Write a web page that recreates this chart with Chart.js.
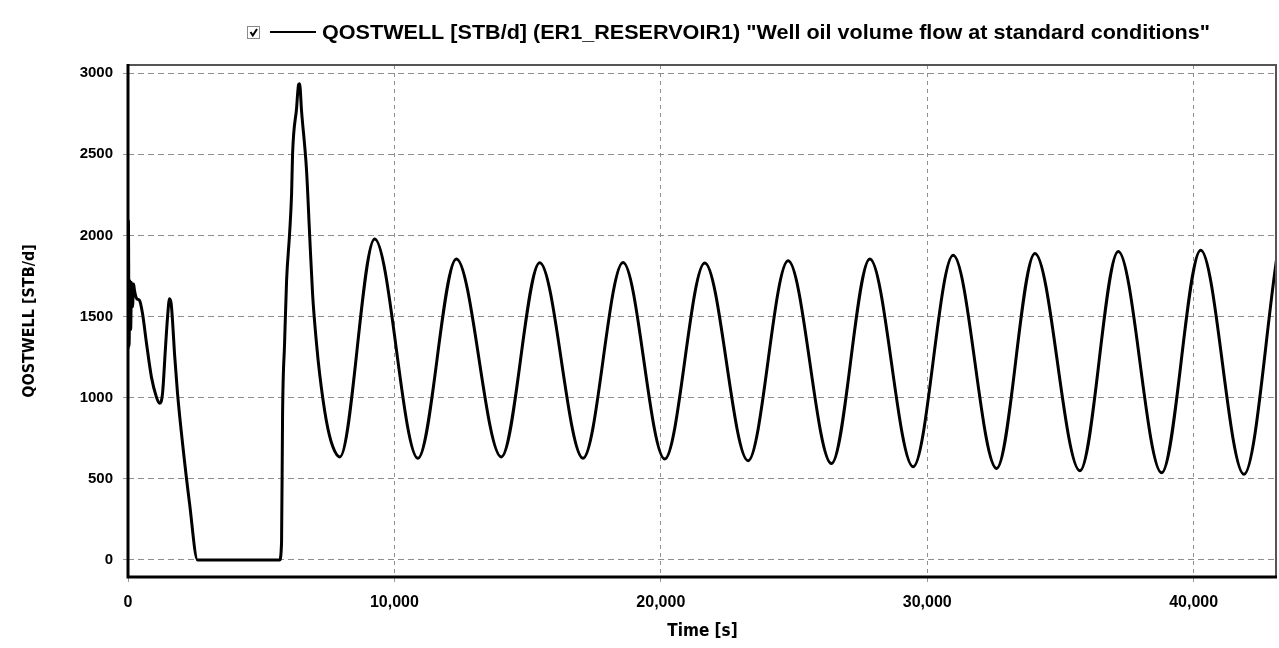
<!DOCTYPE html>
<html>
<head>
<meta charset="utf-8">
<title>QOSTWELL</title>
<script src="https://cdn.jsdelivr.net/npm/chart.js@4.4.1/dist/chart.umd.min.js"></script>
<style>
  html, body { margin: 0; padding: 0; background: #fff; }
  #wrap { position: relative; width: 1279px; height: 648px; }
</style>
</head>
<body>
<div id="wrap"><canvas id="flowChart"></canvas></div>
<script>
// well oil rate vs simulation time
const timeS = [
    0, 15, 40, 70, 100, 130, 170, 210, 244, 330, 432, 545, 695, 882, 1070, 1183, 1296, 1400, 1483, 1558,
    1620, 1671, 1746, 1859, 2047, 2309, 2610, 5689, 5764, 5802, 5877, 5952, 6065, 6140, 6177, 6328, 6403,
    6440, 6515, 6703, 6816, 6928, 7078, 7191, 7443, 7690, 7953,
    9257, 10883, 12324, 14014, 15453, 17079, 18581, 20146, 21648, 23274, 24777, 26406, 27844, 29471,
    30973, 32603, 34040, 35731, 37169, 38798, 40263, 41888, 43128
];
const qostwell = [
    1300, 2090, 1320, 1720, 1420, 1710, 1560, 1700, 1660, 1610, 1600, 1518, 1334, 1125, 1002, 965, 1026, 1290, 1494, 1610,
    1580, 1475, 1272, 1026, 719, 350, 0, 0, 110, 903, 1334, 1720, 2010, 2255, 2500, 2785, 2930,
    2935, 2765, 2397, 2010, 1640, 1330, 1150, 860, 697, 635,
    1978, 627, 1855, 635, 1832, 627, 1833, 622, 1830, 612, 1844, 594, 1855, 574,
    1877, 564, 1889, 550, 1901, 537, 1909, 528, 1870
];
const xTicks = [0, 10000, 20000, 30000, 40000];
const yTicks = [0, 500, 1000, 1500, 2000, 2500, 3000];

const seriesLabel = 'QOSTWELL [STB/d] (ER1_RESERVOIR1) "Well oil volume flow at standard conditions"';
const yTitle = 'QOSTWELL [STB/d]';
const xTitle = 'Time [s]';

const narrow = "'Liberation Sans Narrow', 'DejaVu Sans Condensed', 'Liberation Sans', sans-serif";
const plain = "'Liberation Sans', Arial, sans-serif";

// checkbox + line + caption above the plot
const legendBox = {
    id: 'legendBox',
    afterDraw(chart) {
        const ctx = chart.ctx;
        ctx.save();
        ctx.fillStyle = '#fff';
        ctx.strokeStyle = '#8a8a8a';
        ctx.lineWidth = 1;
        ctx.fillRect(247.5, 26.5, 12, 12);
        ctx.strokeRect(247.5, 26.5, 12, 12);
        ctx.strokeStyle = '#000';
        ctx.lineWidth = 2;
        ctx.beginPath();
        ctx.moveTo(250.5, 32);
        ctx.lineTo(252.8, 35.5);
        ctx.lineTo(257, 29);
        ctx.stroke();

        ctx.beginPath();
        ctx.moveTo(270, 32);
        ctx.lineTo(316, 32);
        ctx.stroke();

        // squeeze the caption into its slot (narrow face)
        ctx.fillStyle = '#000';
        ctx.font = 'bold 21px ' + plain;
        ctx.textBaseline = 'middle';
        ctx.textAlign = 'left';
        const w = ctx.measureText(seriesLabel).width;
        ctx.translate(322, 33);
        ctx.scale(888 / w, 1);
        ctx.fillText(seriesLabel, 0, 0);
        ctx.restore();
    }
};

// plot frame: dark left/bottom, grey top/right
const plotFrame = {
    id: 'plotFrame',
    afterDatasetsDraw(chart) {
        const { left, right, top, bottom } = chart.chartArea;
        const ctx = chart.ctx;
        ctx.save();
        ctx.strokeStyle = '#555';
        ctx.lineWidth = 2;
        ctx.beginPath();
        ctx.moveTo(left, top);
        ctx.lineTo(right - 1, top);
        ctx.lineTo(right - 1, bottom);
        ctx.stroke();
        ctx.strokeStyle = '#000';
        ctx.lineWidth = 3;
        ctx.beginPath();
        ctx.moveTo(left, top - 1);
        ctx.lineTo(left, bottom);
        ctx.lineTo(right, bottom);
        ctx.stroke();
        ctx.restore();
    }
};

new Chart(document.getElementById('flowChart').getContext('2d'), {
    type: 'line',
    data: {
        datasets: [{
            label: seriesLabel,
            data: timeS.map((t, i) => ({ x: t, y: qostwell[i] })),
            borderColor: '#000',
            borderWidth: 3,
            pointRadius: 0,
            fill: false,
            cubicInterpolationMode: 'monotone'
        }]
    },
    options: {
        responsive: true,
        maintainAspectRatio: false,
        animation: false,
        layout: { padding: { top: 65, right: 2, left: 0, bottom: 0 } },
        plugins: { legend: { display: false }, tooltip: { enabled: false } },
        scales: {
            x: {
                type: 'linear',
                min: 0,
                max: 43128,
                afterFit: s => { s.height = 71; },
                afterBuildTicks: s => { s.ticks = xTicks.map(v => ({ value: v })); },
                ticks: {
                    color: '#000',
                    font: { family: plain, size: 16, weight: 'bold' },
                    padding: 11,
                    maxRotation: 0,
                    callback: v => v.toLocaleString('en-US')
                },
                grid: { color: '#8f8f8f', lineWidth: 1, tickLength: 5, tickColor: '#999', tickWidth: 1 },
                border: { display: false, dash: [4, 4] },
                title: {
                    display: true,
                    text: xTitle,
                    color: '#000',
                    font: { family: narrow, size: 17, weight: 'bold' },
                    padding: { top: 0, bottom: 6 }
                }
            },
            y: {
                min: -105,
                max: 3050,
                afterFit: s => { s.width = 128; },
                afterBuildTicks: s => { s.ticks = yTicks.map(v => ({ value: v })); },
                ticks: {
                    color: '#000',
                    font: { family: plain, size: 15, weight: 'bold' },
                    padding: 10,
                    callback: v => String(v)
                },
                grid: { color: '#8f8f8f', lineWidth: 1, tickLength: 5, tickColor: '#999', tickWidth: 1 },
                border: { display: false, dash: [6, 4] },
                title: {
                    display: true,
                    text: yTitle,
                    color: '#000',
                    font: { family: narrow, size: 16, weight: 'bold' },
                    padding: { top: 20, bottom: 0 }
                }
            }
        }
    },
    plugins: [legendBox, plotFrame]
});
</script>
</body>
</html>
